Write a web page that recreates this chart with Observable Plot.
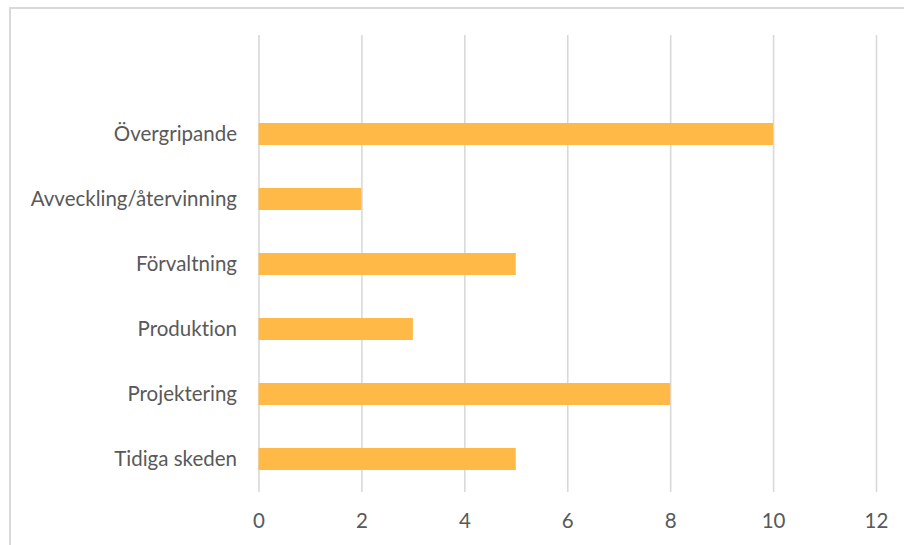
<!DOCTYPE html>
<html><head><meta charset="utf-8">
<script src="https://cdn.jsdelivr.net/npm/d3@7"></script>
<script src="https://cdn.jsdelivr.net/npm/@observablehq/plot@0.6"></script>
<style>
body{margin:0;background:#fff;overflow:hidden;}
#wrap{position:relative;width:904px;height:545px;}
#border{position:absolute;left:9px;top:7px;width:1000px;height:1000px;border:2px solid #d9d9d9;box-sizing:border-box;}
#chart{position:absolute;left:0;top:0;}
svg text{font-variant-ligatures:none;}
</style></head>
<body>
<div id="wrap"><div id="border"></div><div id="chart"></div></div>
<script>
const categories = ["Övergripande","Avveckling/återvinning","Förvaltning","Produktion","Projektering","Tidiga skeden"];
const values = [10, 2, 5, 3, 8, 5];
const xTicks = [0, 2, 4, 6, 8, 10, 12];
const data = categories.map((c, i) => ({category: c, value: values[i]}));

const W = 904, H = 545;
const mL = 258.5, mR = 28, mT = 35, mB = 53;
const plot = Plot.plot({
  width: W, height: H,
  marginLeft: mL, marginRight: mR, marginTop: mT, marginBottom: mB,
  style: {fontFamily: "Lato, 'Open Sans', sans-serif", fontSize: "20px", color: "#595959", background: "transparent"},
  x: {domain: [0, 12], ticks: xTicks, label: null, tickSize: 0, tickPadding: 20},
  y: {domain: categories, range: [mT + (H - mB - mT) / 7, H - mB], paddingInner: 0.66, paddingOuter: 0.33, label: null, tickSize: 0, tickPadding: 22},
  marks: [
    Plot.ruleX(xTicks, {stroke: "#d9d9d9", strokeWidth: 1.6}),
    Plot.barX(data, {y: "category", x: "value", fill: "#FFB946"}),
    Plot.axisX({ticks: xTicks, tickSize: 0, tickPadding: 21, label: null, fontSize: 20.5}),
    Plot.axisY({tickSize: 0, tickPadding: 22, label: null, fontSize: 20.5})
  ]
});
document.getElementById("chart").appendChild(plot);
</script>
</body></html>
